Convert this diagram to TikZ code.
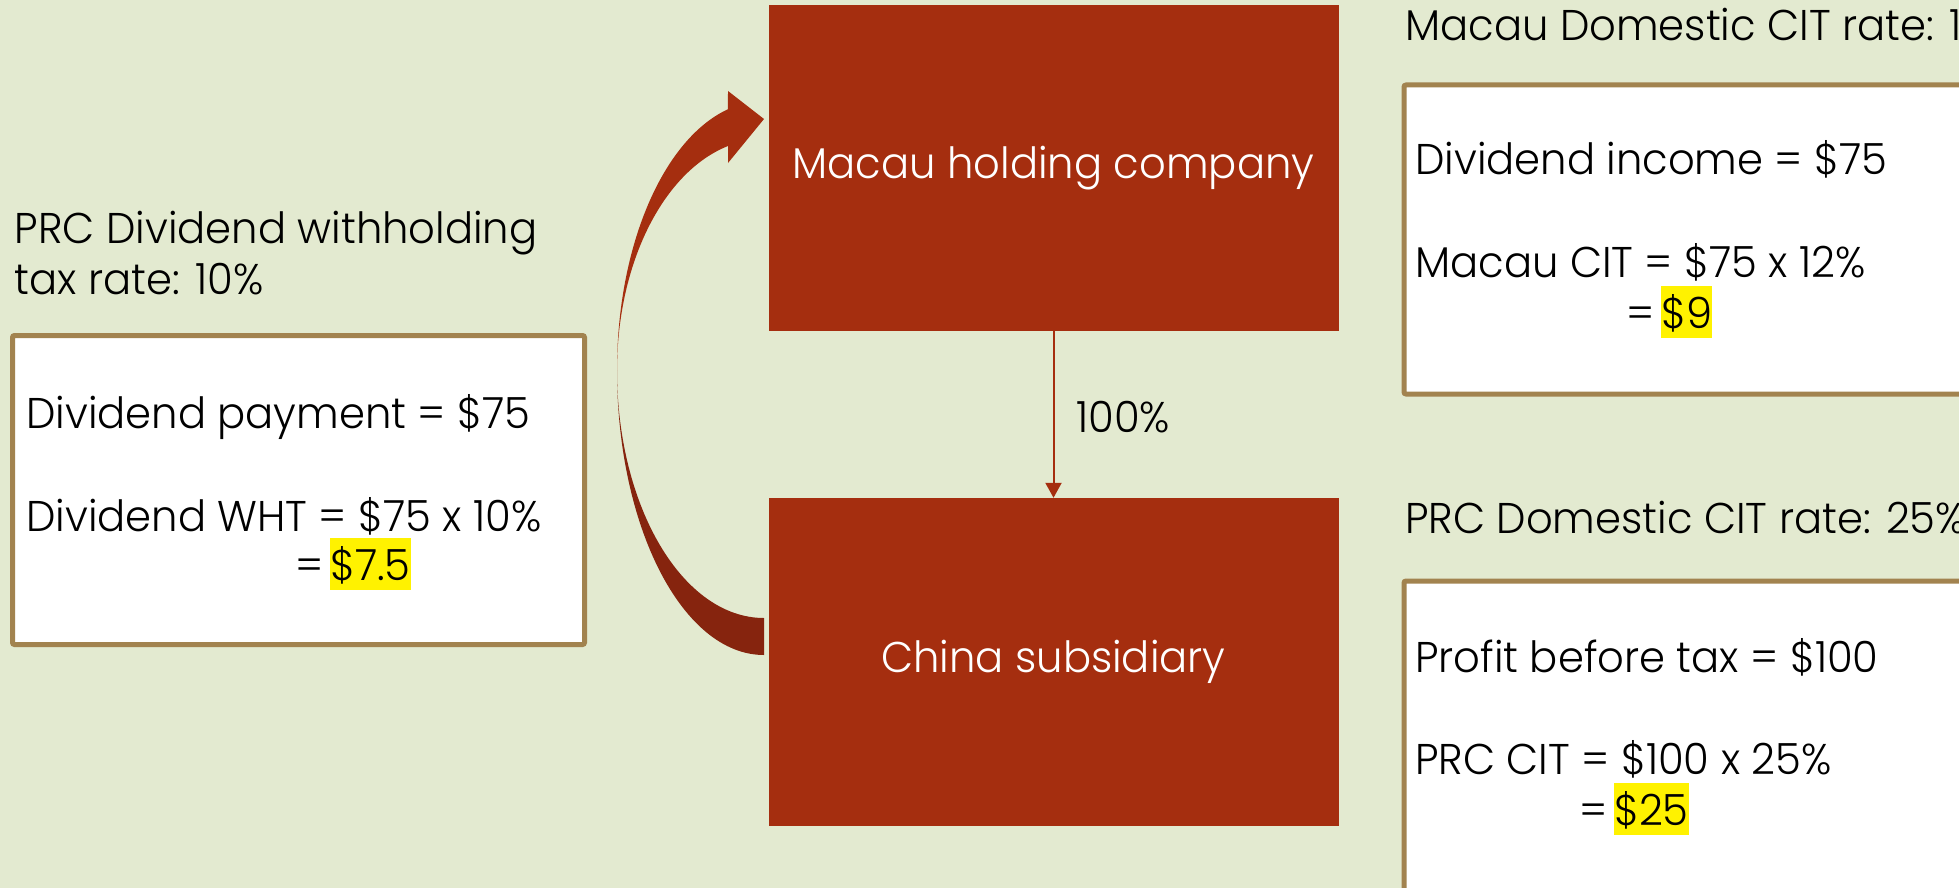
\documentclass[tikz,border=0pt]{standalone}
\usepackage{fontspec}
\setmainfont{Poppins}[UprightFont=* Light, FakeStretch=0.97]
\usetikzlibrary{arrows.meta}
\definecolor{bg}{HTML}{E3EAD0}
\definecolor{brick}{HTML}{A52E0F}
\definecolor{brickdark}{HTML}{86240E}
\definecolor{frame}{HTML}{A2834F}
\newcommand\hilite[1]{{\setlength{\fboxsep}{0pt}\colorbox{yellow}{\rule[-10pt]{0pt}{52pt}#1}}}
\begin{document}
\begin{tikzpicture}[x=1pt,y=-1pt,
  bigfont/.style={font=\fontsize{43}{52}\selectfont},
  txt/.style={bigfont, anchor=base west, inner sep=0pt},
  entity/.style={bigfont, fill=brick, draw=none, text=white, minimum width=570pt, inner sep=0pt},
  panel/.style={draw=frame, fill=white, line width=5pt, rounded corners=2pt, inner sep=0pt},
  own/.style={draw=brick, line width=2pt, -{Triangle[width=16pt,length=15pt]}},
]
\useasboundingbox (0,0) rectangle (1959,888);
\clip (0,0) rectangle (1959,888);
\fill[bg] (0,0) rectangle (1959,888);

% entities
\node[entity, minimum height=326pt] (macau) at (1053.5,168) {Macau holding company};
\node[entity, minimum height=328pt] (china) at (1053.5,662) {China subsidiary};

% ownership link
\draw[own] (macau.south) -- (china.north);
\node[txt] (share) at (1076,432) {100\%};

% dividend flow: curved arrow, darker underside
\fill[brickdark] (764,655)
  arc[start angle=90, end angle=180, x radius=147, y radius=285]
  arc[start angle=180, end angle=90, x radius=147, y radius=248] -- cycle;
\fill[brick] (617,370)
  arc[start angle=180, end angle=255.8, x radius=147, y radius=269]
  -- (728,91) -- (764,119) -- (728,163) -- (728,146)
  arc[start angle=255.8, end angle=180, x radius=147, y radius=231] -- cycle;

% withholding tax panel
\node[txt] (whtitle1) at (14.5,243) {PRC Dividend withholding};
\node[txt] (whtitle2) at (14.5,294) {tax rate: 10\%};
\node[panel, minimum width=572pt, minimum height=309pt] (whbox) at (298.5,490) {};
\node[txt] (wh1) at (26,428) {Dividend payment = \$75};
\node[txt] (wh2) at (26,531) {Dividend WHT = \$75 x 10\%};
\node[txt] (wh3) at (295,580) {=};
\node[txt] (wh4) at (330,580) {\hilite{\$7.5}};

% Macau CIT panel
\node[txt] (mctitle) at (1405,41) {Macau Domestic CIT rate: 12\%};
\node[panel, minimum width=600pt, minimum height=309pt, anchor=north west] (mcbox) at (1401.5,82.5) {};
\node[txt] (mc1) at (1415,175) {Dividend income = \$75};
\node[txt] (mc2) at (1415,277) {Macau CIT = \$75 x 12\%};
\node[txt] (mc3) at (1626,328) {=};
\node[txt] (mc4) at (1661,328) {\hilite{\$9}};

% PRC CIT panel
\node[txt] (pctitle) at (1405,533) {PRC Domestic CIT rate: 25\%};
\node[panel, minimum width=600pt, minimum height=340pt, anchor=north west] (pcbox) at (1401.5,578.5) {};
\node[txt] (pc1) at (1415,672) {Profit before tax = \$100};
\node[txt] (pc2) at (1415,774) {PRC CIT = \$100 x 25\%};
\node[txt] (pc3) at (1579,825) {=};
\node[txt] (pc4) at (1614,825) {\hilite{\$25}};
\end{tikzpicture}
\end{document}
